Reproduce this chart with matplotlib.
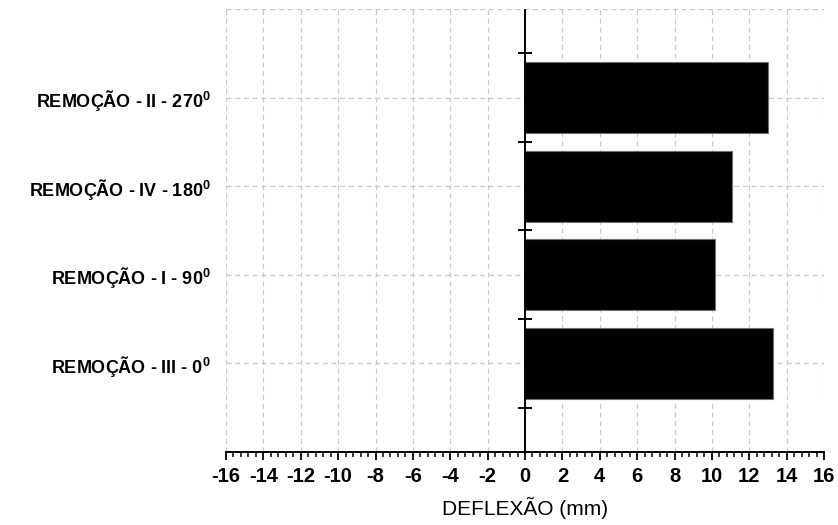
import numpy as np
import matplotlib
matplotlib.use("Agg")
import matplotlib.pyplot as plt
from matplotlib.ticker import MultipleLocator

# dados (de baixo para cima)
categorias = ["REMOÇÃO - III - 0", "REMOÇÃO - I - 90", "REMOÇÃO - IV - 180", "REMOÇÃO - II - 270"]
deflexao = [13.28, 10.16, 11.05, 13.0]
xticks = list(range(-16, 17, 2))

plt.rcParams["font.family"] = ["Liberation Sans", "DejaVu Sans"]
plt.rcParams["mathtext.fontset"] = "custom"
plt.rcParams["mathtext.rm"] = "Liberation Sans"
plt.rcParams["mathtext.bf"] = "Liberation Sans:bold"

fig = plt.figure(figsize=(8.38, 5.25), dpi=100)
ax = fig.add_axes([0.2697, 0.139, 0.7136, 0.844])

y = np.arange(len(categorias))
ax.barh(y, deflexao, height=0.8, color="black", edgecolor="#707070", linewidth=0.8, zorder=3)

ax.set_xlim(-16, 16)
ax.set_ylim(-1, len(categorias))
ax.set_xticks(xticks)
ax.set_xticklabels([str(t) for t in xticks], fontsize=14.5, fontweight="bold")
ax.xaxis.set_minor_locator(MultipleLocator(0.4))
ax.tick_params(axis="x", which="major", length=6, width=1.3, direction="out", pad=5)
ax.tick_params(axis="x", which="minor", length=3.5, width=1.1, direction="out")

labels = [c + r"$^{\mathbf{0}}$" for c in categorias]
ax.set_yticks(y)
ax.set_yticklabels(labels, fontsize=13, fontweight="bold")
ax.tick_params(axis="y", length=0, pad=11)

# grade tracejada
ax.grid(True, which="major", color="#c8c8c8", linestyle=(0, (4, 3)), linewidth=0.9, zorder=0)
ax.axhline(len(categorias), color="#c8c8c8", linestyle=(0, (4, 3)), linewidth=0.9, zorder=0)
ax.set_axisbelow(True)

for s in ["top", "right", "left"]:
    ax.spines[s].set_visible(False)
ax.spines["bottom"].set_linewidth(1.4)
ax.spines["bottom"].set_zorder(4)

# eixo vertical em x = 0 com marcas entre categorias
ax.axvline(0, color="black", linewidth=1.4, zorder=4)
limites = np.arange(len(categorias) + 1) - 0.5
ax.plot(np.zeros_like(limites), limites, linestyle="none", marker="_", markersize=10,
        markeredgewidth=1.4, color="black", zorder=5, clip_on=False)

ax.set_xlabel("DEFLEXÃO (mm)", fontsize=15, labelpad=8)

fig.savefig("out.png", dpi=100)
